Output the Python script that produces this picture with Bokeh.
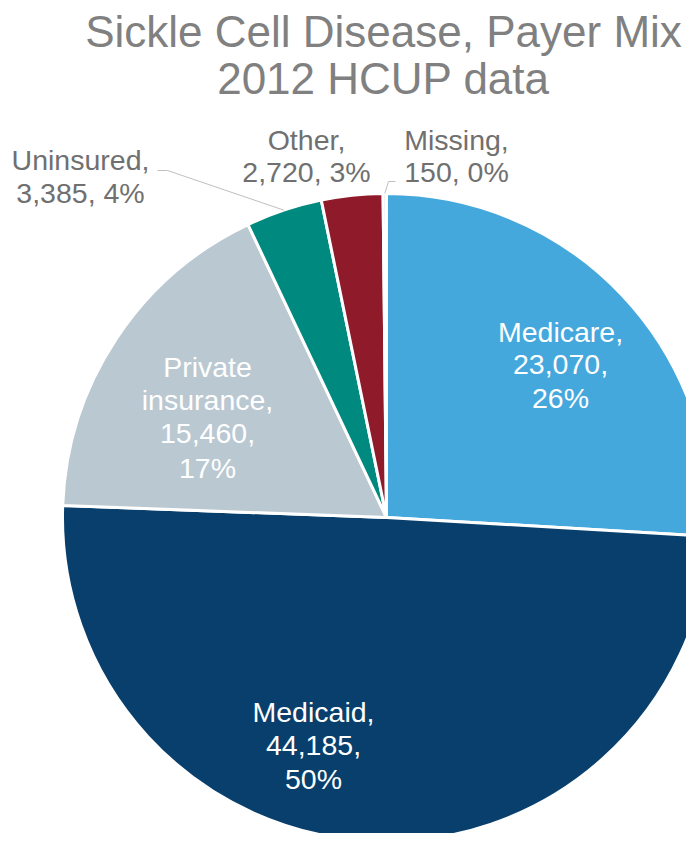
import math
from bokeh.plotting import figure
from bokeh.models import Range1d, ColumnDataSource
from bokeh.core.properties import value
from bokeh.embed import file_html
from bokeh.resources import INLINE

# ---- data ----
categories = ["Medicare", "Medicaid", "Private insurance", "Uninsured", "Other", "Missing"]
counts = [23070, 44185, 15460, 3385, 2720, 150]
title_lines = ["Sickle Cell Disease, Payer Mix", "2012 HCUP data"]

# ---- styles ----
colors = ["#45A8DD", "#083F6C", "#BAC8D2", "#00897F", "#8F1A2A", "#D9D9D9"]
FONT = "Liberation Sans"
W, H = 686, 833
LABEL_SIZE = 28.5
TITLE_SIZE = 44
BASE_FIX = 0.35  # empirical baseline correction (fraction of font size)

def X(px):  # reference pixel -> data
    return px

def Y(py):
    return H - py

p = figure(width=W, height=H, output_backend="svg", toolbar_location=None,
           x_range=Range1d(0, W), y_range=Range1d(0, H), min_border=0)
p.axis.visible = False
p.grid.visible = False
p.outline_line_color = None
p.background_fill_color = "white"
p.border_fill_color = "white"

total = sum(counts)
fracs = [c / total for c in counts]
cum = [0.0]
for f in fracs:
    cum.append(cum[-1] + f)
starts = [math.pi / 2 - 2 * math.pi * cum[i + 1] for i in range(len(counts))]
ends = [math.pi / 2 - 2 * math.pi * cum[i] for i in range(len(counts))]

cx, cy, R = X(386), Y(517), 324
src = ColumnDataSource(dict(start=starts, end=ends, color=colors))
p.wedge(x=cx, y=cy, radius=R, start_angle="start", end_angle="end",
        fill_color="color", line_color="white", line_width=3, source=src)

# leader lines (outside labels)
def mid_point(i):
    a = (starts[i] + ends[i]) / 2
    return cx + R * math.cos(a), cy + R * math.sin(a)

ux, uy = mid_point(3)
p.line(x=[X(157), X(167), ux], y=[Y(170), Y(170), uy], line_color="#BFBFBF", line_width=1)
mx, my = mid_point(5)
p.line(x=[mx, X(388), X(395)], y=[my, Y(181), Y(181)], line_color="#BFBFBF", line_width=1)

# ---- labels ----
pcts = [round(f * 100) for f in fracs]
layout = {
    "Medicare": ("in", 560, 341, 33.0),
    "Medicaid": ("in", 313, 721, 33.5),
    "Private insurance": ("in", 207, 376, 33.7),
    "Uninsured": ("out", 80, 169, 33.0),
    "Other": ("out", 306, 149, 32.5),
    "Missing": ("out", 456, 149, 32.5),
}

tx, ty, tt, tc = [], [], [], []
for name, c, pc in zip(categories, counts, pcts):
    mode, lx, ly, dy = layout[name]
    if mode == "in":
        words = name.split(" ")
        lines = words[:-1] + [words[-1] + ","] + [f"{c:,},", f"{pc}%"]
        col = "#FFFFFF"
    else:
        lines = [name + ",", f"{c:,}, {pc}%"]
        col = "#707070"
    for k, ln in enumerate(lines):
        tx.append(X(lx))
        ty.append(Y(ly + k * dy - BASE_FIX * LABEL_SIZE))
        tt.append(ln)
        tc.append(col)

lsrc = ColumnDataSource(dict(x=tx, y=ty, text=tt, color=tc))
p.text(x="x", y="y", text="text", text_color="color", source=lsrc,
       text_font=value(FONT), text_font_size=f"{LABEL_SIZE}px",
       text_align="center", text_baseline="alphabetic")

p.text(x=[X(383)] * 2,
       y=[Y(46 - BASE_FIX * TITLE_SIZE), Y(93 - BASE_FIX * TITLE_SIZE)],
       text=title_lines, text_color="#808080",
       text_font=value(FONT), text_font_size=f"{TITLE_SIZE}px",
       text_align="center", text_baseline="alphabetic")

open("out.html", "w").write(file_html(p, INLINE))
